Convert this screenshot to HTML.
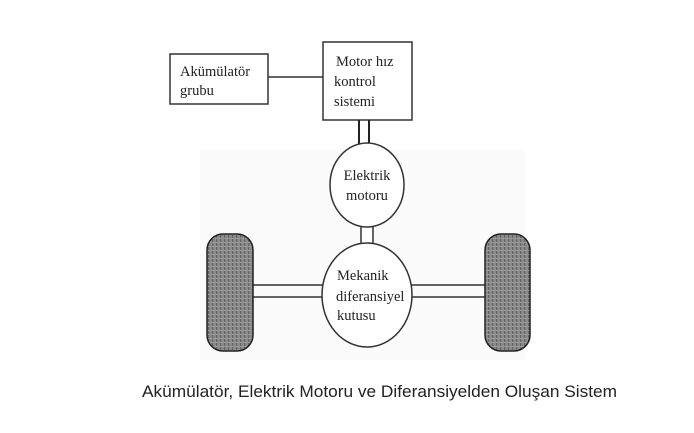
<!DOCTYPE html>
<html><head><meta charset="utf-8"><style>
html,body{margin:0;padding:0;background:#fff;width:694px;height:433px;overflow:hidden}
svg text{font-family:"Liberation Serif",serif;fill:#222}
</style></head><body>
<svg width="694" height="433" viewBox="0 0 694 433" xmlns="http://www.w3.org/2000/svg">
<defs>
<pattern id="tr" width="4" height="4" patternUnits="userSpaceOnUse">
<rect width="4" height="4" fill="#8a8a8a"/><rect x="0" width="1.2" height="4" fill="#666"/><rect y="2" width="4" height="1" fill="#9a9a9a"/>
</pattern>
</defs>
<rect x="200" y="150" width="325" height="210" fill="#fcfbfb"/>
<rect x="170" y="54" width="98" height="50" fill="#fff" stroke="#333" stroke-width="1.5"/>
<text x="180" y="76" font-size="14.5">Akümülatör</text>
<text x="180" y="95" font-size="14.5">grubu</text>
<line x1="268" y1="77" x2="323" y2="77" stroke="#333" stroke-width="1.5"/>
<rect x="323" y="42" width="89" height="78" fill="#fff" stroke="#333" stroke-width="1.5"/>
<text x="336" y="66" font-size="14.5">Motor hız</text>
<text x="334" y="86" font-size="14.5">kontrol</text>
<text x="334" y="106" font-size="14.5">sistemi</text>
<line x1="359" y1="120" x2="359" y2="145" stroke="#222" stroke-width="2"/>
<line x1="369" y1="120" x2="369" y2="145" stroke="#222" stroke-width="2"/>
<rect x="361" y="218" width="12" height="26" fill="#fff" stroke="#333" stroke-width="1.5"/>
<ellipse cx="367" cy="185" rx="37" ry="42" fill="#fff" stroke="#333" stroke-width="1.5"/>
<text x="367" y="180" font-size="14.5" text-anchor="middle">Elektrik</text>
<text x="367" y="200" font-size="14.5" text-anchor="middle">motoru</text>
<line x1="253" y1="285" x2="325" y2="285" stroke="#333" stroke-width="1.5"/>
<line x1="253" y1="297" x2="324" y2="297" stroke="#333" stroke-width="1.5"/>
<line x1="410" y1="285" x2="485" y2="285" stroke="#333" stroke-width="1.5"/>
<line x1="410" y1="297" x2="485" y2="297" stroke="#333" stroke-width="1.5"/>
<ellipse cx="367" cy="295" rx="45" ry="52" fill="#fff" stroke="#333" stroke-width="1.5"/>
<text x="337" y="280" font-size="14.5">Mekanik</text>
<text x="336" y="301" font-size="14.5">diferansiyel</text>
<text x="337" y="320" font-size="14.5">kutusu</text>
<rect x="207" y="234" width="46" height="117" rx="16" fill="url(#tr)" stroke="#222" stroke-width="1.5"/>
<rect x="485" y="234" width="45" height="117" rx="16" fill="url(#tr)" stroke="#222" stroke-width="1.5"/>
<text x="142" y="397" font-size="16.5" textLength="475" lengthAdjust="spacingAndGlyphs" style="font-family:'Liberation Sans',sans-serif" fill="#111">Akümülatör, Elektrik Motoru ve Diferansiyelden Oluşan Sistem</text>
</svg>
</body></html>
